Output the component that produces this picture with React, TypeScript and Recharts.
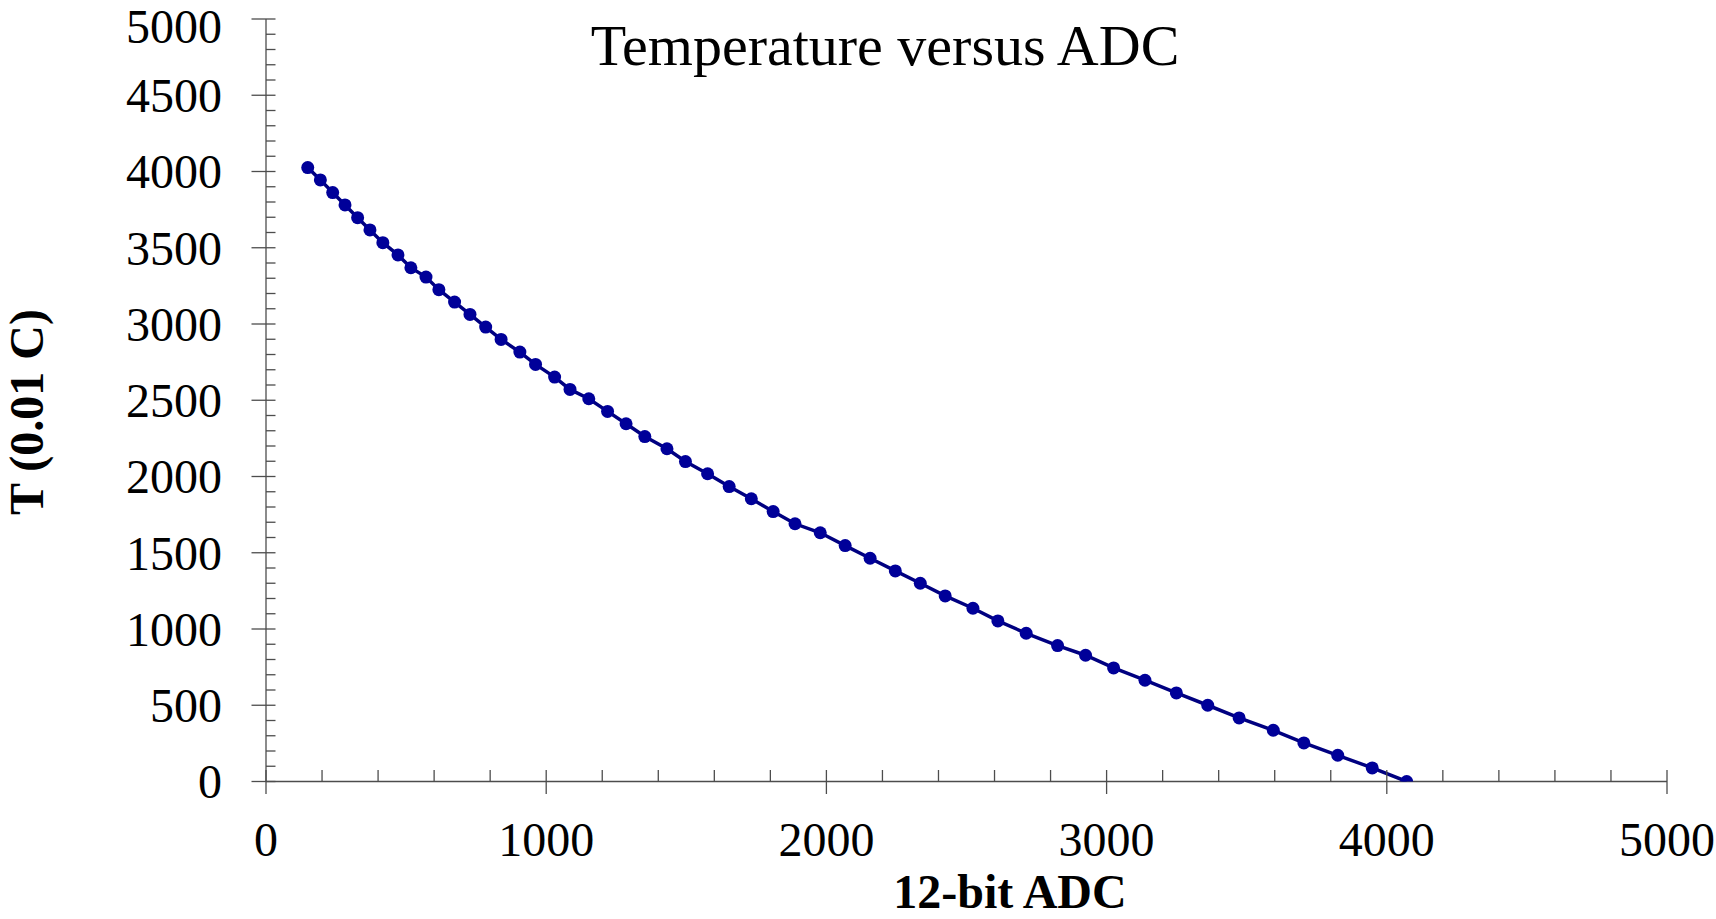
import React from 'react';
import { ScatterChart, Scatter, XAxis, YAxis, Label } from 'recharts';

// 12-bit ADC reading and temperature (0.01 C)
const adcValues = [
  149, 194, 238, 282, 327, 371, 417, 471, 517, 571,
  617, 673, 728, 784, 839, 906, 962, 1030, 1085, 1152,
  1219, 1285, 1352, 1431, 1497, 1576, 1653, 1732, 1810, 1888,
  1978, 2067, 2156, 2246, 2335, 2424, 2523, 2612, 2713, 2825,
  2925, 3025, 3137, 3249, 3361, 3473, 3595, 3704, 3825, 3948,
  4071,
];
const tempValues = [
  4026, 3945, 3862, 3781, 3697, 3617, 3533, 3453, 3369, 3308,
  3225, 3144, 3063, 2980, 2899, 2816, 2735, 2652, 2571, 2510,
  2427, 2346, 2262, 2182, 2098, 2018, 1934, 1854, 1770, 1690,
  1631, 1547, 1464, 1381, 1300, 1217, 1136, 1053, 972, 891,
  828, 745, 664, 581, 500, 417, 336, 253, 172, 89,
  0,
];

const xTicks = Array.from({ length: 26 }, (_, i) => i * 200);
const yTicks = Array.from({ length: 51 }, (_, i) => i * 100);

const data = adcValues.map((adc, i) => ({ adc, temp: tempValues[i] }));

const FONT = '"Liberation Serif", "Times New Roman", serif';
const AXIS = '#4d4d4d';

const XTick = (props: any) => {
  const { x, y, payload } = props;
  const v = payload.value;
  if (v % 1000 !== 0) {
    return <line x1={x} y1={y} x2={x} y2={y - 11.5} stroke={AXIS} strokeWidth={1.3} />;
  }
  return (
    <g>
      <line x1={x} y1={y - 11.5} x2={x} y2={y + 12.5} stroke={AXIS} strokeWidth={1.3} />
      <text x={x} y={y + 74.5} textAnchor="middle" fontFamily={FONT} fontSize={48} fill="#000">
        {v}
      </text>
    </g>
  );
};

const YTick = (props: any) => {
  const { x, y, payload } = props;
  const v = payload.value;
  if (v % 500 !== 0) {
    return <line x1={x} y1={y} x2={x + 9.5} y2={y} stroke={AXIS} strokeWidth={1.3} />;
  }
  // keep the top label inside the picture
  const ty = v === 5000 ? Math.max(y, 26) : y;
  return (
    <g>
      <line x1={x - 14.5} y1={y} x2={x + 9.5} y2={y} stroke={AXIS} strokeWidth={1.3} />
      <text x={x - 44} y={ty} dy="0.35em" textAnchor="end" fontFamily={FONT} fontSize={48} fill="#000">
        {v}
      </text>
    </g>
  );
};

const Dot = (props: any) => <circle cx={props.cx} cy={props.cy} r={6.5} fill="#000099" />;

export default function App() {
  return (
    <div style={{ position: 'absolute', left: 0, top: 0, background: '#fff' }}>
      <ScatterChart width={1716} height={919} margin={{ top: 19, right: 49, bottom: 107.5, left: 206 }}>
        <XAxis
          type="number"
          dataKey="adc"
          domain={[0, 5000]}
          ticks={xTicks}
          interval={0}
          allowDataOverflow
          height={30}
          tickSize={0}
          tickMargin={0}
          tickLine={false}
          axisLine={{ stroke: AXIS, strokeWidth: 1.3 }}
          tick={<XTick />}
        >
          <Label
            content={() => (
              <text x={1010} y={908} textAnchor="middle" fontFamily={FONT} fontSize={48} fontWeight="bold" fill="#000">
                12-bit ADC
              </text>
            )}
          />
          <Label
            content={() => (
              <text x={885} y={65} textAnchor="middle" fontFamily={FONT} fontSize={58} fill="#000">
                Temperature versus ADC
              </text>
            )}
          />
        </XAxis>
        <YAxis
          type="number"
          dataKey="temp"
          domain={[0, 5000]}
          ticks={yTicks}
          interval={0}
          allowDataOverflow
          width={60}
          tickSize={0}
          tickMargin={0}
          tickLine={false}
          axisLine={{ stroke: AXIS, strokeWidth: 1.3 }}
          tick={<YTick />}
        >
          <Label
            content={() => (
              <text
                x={43}
                y={412}
                transform="rotate(-90, 43, 412)"
                textAnchor="middle"
                fontFamily={FONT}
                fontSize={48}
                fontWeight="bold"
                fill="#000"
              >
                T (0.01 C)
              </text>
            )}
          />
        </YAxis>
        <Scatter
          data={data}
          line={{ stroke: '#000080', strokeWidth: 3.5 }}
          shape={<Dot />}
          fill="#000099"
          isAnimationActive={false}
        />
      </ScatterChart>
    </div>
  );
}
